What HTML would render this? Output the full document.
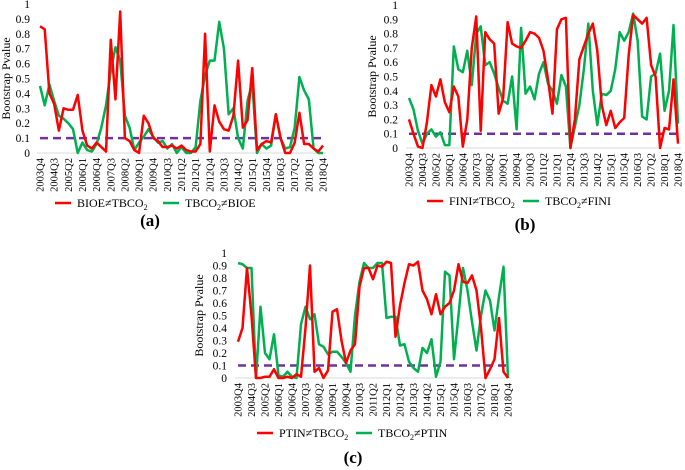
<!DOCTYPE html>
<html><head><meta charset="utf-8"><style>
body{margin:0;background:#fff}
svg{display:block}
svg text{font-family:"Liberation Serif","DejaVu Serif",serif}
</style></head><body>
<svg id="chart" width="685" height="470" viewBox="0 0 685 470" font-family="Liberation Serif, serif"></svg>
<script>
const quarters=[];for(let y=2003,q=4;quarters.length<61;){quarters.push(y+'Q'+q);q++;if(q>4){q=1;y++;}}
const yTicks=[0,0.1,0.2,0.3,0.4,0.5,0.6,0.7,0.8,0.9,1];
const threshold=0.1;
const aRed=[.85,.83,.40,.33,.15,.30,.29,.29,.39,.15,.05,.03,.07,.04,.01,.76,.36,.95,.10,.08,.02,0,.25,.20,.10,.08,.04,.04,.05,.03,.05,.02,.01,.01,.06,.80,.01,.32,.21,.16,.15,.25,.62,.17,.22,.57,.02,.06,.08,.07,.26,.10,0,0,.07,.27,.06,.06,.03,.01,.05];
const aGreen=[.45,.32,.46,.35,.25,.23,.20,.16,0,.07,.02,.01,.06,.17,.32,.55,.71,.62,.25,.17,.02,.07,.11,.16,.11,.07,.08,.03,.06,0,.04,0,0,.04,.35,.52,.62,.62,.88,.70,.26,.30,.10,.03,.35,.47,0,.06,.03,.05,.26,.10,.03,.04,.17,.51,.42,.36,.03,0,0];
const bRed=[.20,.10,.01,0,.18,.44,.36,.48,.32,.25,.43,.36,.01,.20,.70,.92,.12,.81,.76,.73,.24,.35,.88,.73,.71,.70,.75,.81,.80,.77,.68,.48,.24,.83,.90,.91,0,.20,.62,.71,.80,.87,.68,.30,.16,.26,.14,.18,.21,.65,.93,.90,.87,.91,.58,.50,0,.14,.13,.48,.03];
const bGreen=[.35,.27,.12,.03,.10,.13,.08,.11,.02,.02,.71,.55,.53,.68,.44,.80,.85,.58,.60,.52,.42,.33,.31,.50,.13,.84,.38,.43,.34,.52,.60,.45,.40,.31,.51,.43,0,.15,.30,.55,.87,.40,.16,.38,.37,.40,.55,.81,.75,.81,.94,.75,.22,.20,.50,.52,.66,.26,.40,.86,.17];
const cRed=[.29,.40,.88,.50,0,0,.01,.01,.07,0,0,.01,0,.03,.01,.40,.90,.05,.08,0,.06,.53,.55,.30,.12,.22,.27,.73,.88,.88,.79,.90,.89,.93,.92,.33,.58,.76,.91,.90,.93,.70,.63,.51,.67,.51,.57,.60,.70,.91,.77,.76,.82,.70,.40,0,.07,.15,.48,.05,0];
const cGreen=[.92,.91,.88,.88,0,.57,.20,.15,.35,.02,.01,.05,.01,0,.43,.57,.47,.51,.27,.25,.19,.21,.21,.17,.12,.05,.50,.77,.92,.88,.88,.92,.92,.48,.49,.49,.26,.27,.13,.08,.05,.24,.20,.31,.01,.13,.85,.82,.15,.50,.88,.70,.45,.22,.50,.70,.62,.38,.65,.89,0];
const NS='http://www.w3.org/2000/svg';
const svg=document.getElementById('chart');
const FF='"Liberation Serif", "DejaVu Serif", serif';
function mk(tag,attrs,parent,text){const e=document.createElementNS(NS,tag);for(const k in attrs)e.setAttribute(k,attrs[k]);if(tag==='text')e.style.fontFamily=FF;if(text!==undefined)e.textContent=text;(parent||svg).appendChild(e);return e;}
function panel(id,x0,x1,y0,y1,ylabX,tickX,red,green,legY,leg,label,labX,labY){
  const g=mk('g',{});
  
  
  const sx=i=>x0+(x1-x0)*i/(quarters.length-1);
  const sy=v=>y0-(y0-y1)*v;
  mk('line',{x1:x0-3,x2:x1+3,y1:y0,y2:y0,stroke:'#d9d9d9','stroke-width':1},g);
  yTicks.forEach(t=>{const e=mk('text',{x:tickX,y:sy(t)+4,'text-anchor':'end','font-size':11.5},g,String(t));});
  quarters.forEach((q,i)=>{if(i%3)return;const e=mk('text',{transform:`translate(${sx(i)+3.5},${y0+5}) rotate(-90)`,'text-anchor':'end','font-size':10.5},g,q);});
  const yl=mk('text',{transform:`translate(${ylabX},${(y0+y1)/2}) rotate(-90)`,'text-anchor':'middle','font-size':12},g,'Bootstrap Pvalue');
  
  const th=mk('line',{x1:x0,x2:x1,y1:sy(threshold),y2:sy(threshold),stroke:'#7030a0','stroke-width':2.5,'stroke-dasharray':'8,5'},g);
  
  const gl=mk('polyline',{points:green.map((v,i)=>sx(i)+','+sy(v)).join(' '),fill:'none',stroke:'#00b050','stroke-width':2.5,'stroke-linejoin':'round'},g);
  
  const rl=mk('polyline',{points:red.map((v,i)=>sx(i)+','+sy(v)).join(' '),fill:'none',stroke:'#ff0000','stroke-width':2.5,'stroke-linejoin':'round'},g);
  
  leg.forEach((L,k)=>{
    const lg=mk('g',{},g);
    
    
    mk('line',{x1:L[0],x2:L[0]+16,y1:legY,y2:legY,stroke:k?'#00b050':'#ff0000','stroke-width':2.5},lg);
    const t=mk('text',{x:L[0]+22,y:legY+4,'font-size':12},lg);
    L[1].forEach(p=>{const s=mk('tspan',p[1]?{'font-size':8,dy:3}:{dy:p[2]||0},t,p[0]);});
  });
  const pl=mk('text',{x:labX,y:labY,'text-anchor':'middle','font-size':17,'font-weight':'bold'},g,label);
  
}
panel('a',40,323,153,4,10,30,aRed,aGreen,203,[[55,[['BIOE≠TBCO'],['2',1]]],[163,[['TBCO'],['2',1],['≠BIOE',0,-3]]]],'(a)',150,226);
panel('b',409,678,148,5,376,398,bRed,bGreen,201,[[427,[['FINI≠TBCO'],['2',1]]],[523,[['TBCO'],['2',1],['≠FINI',0,-3]]]],'(b)',525,230);
panel('c',238,508,378,253,203,227,cRed,cGreen,433,[[257,[['PTIN≠TBCO'],['2',1]]],[356,[['TBCO'],['2',1],['≠PTIN',0,-3]]]],'(c)',353,463);
</script>
</body></html>
